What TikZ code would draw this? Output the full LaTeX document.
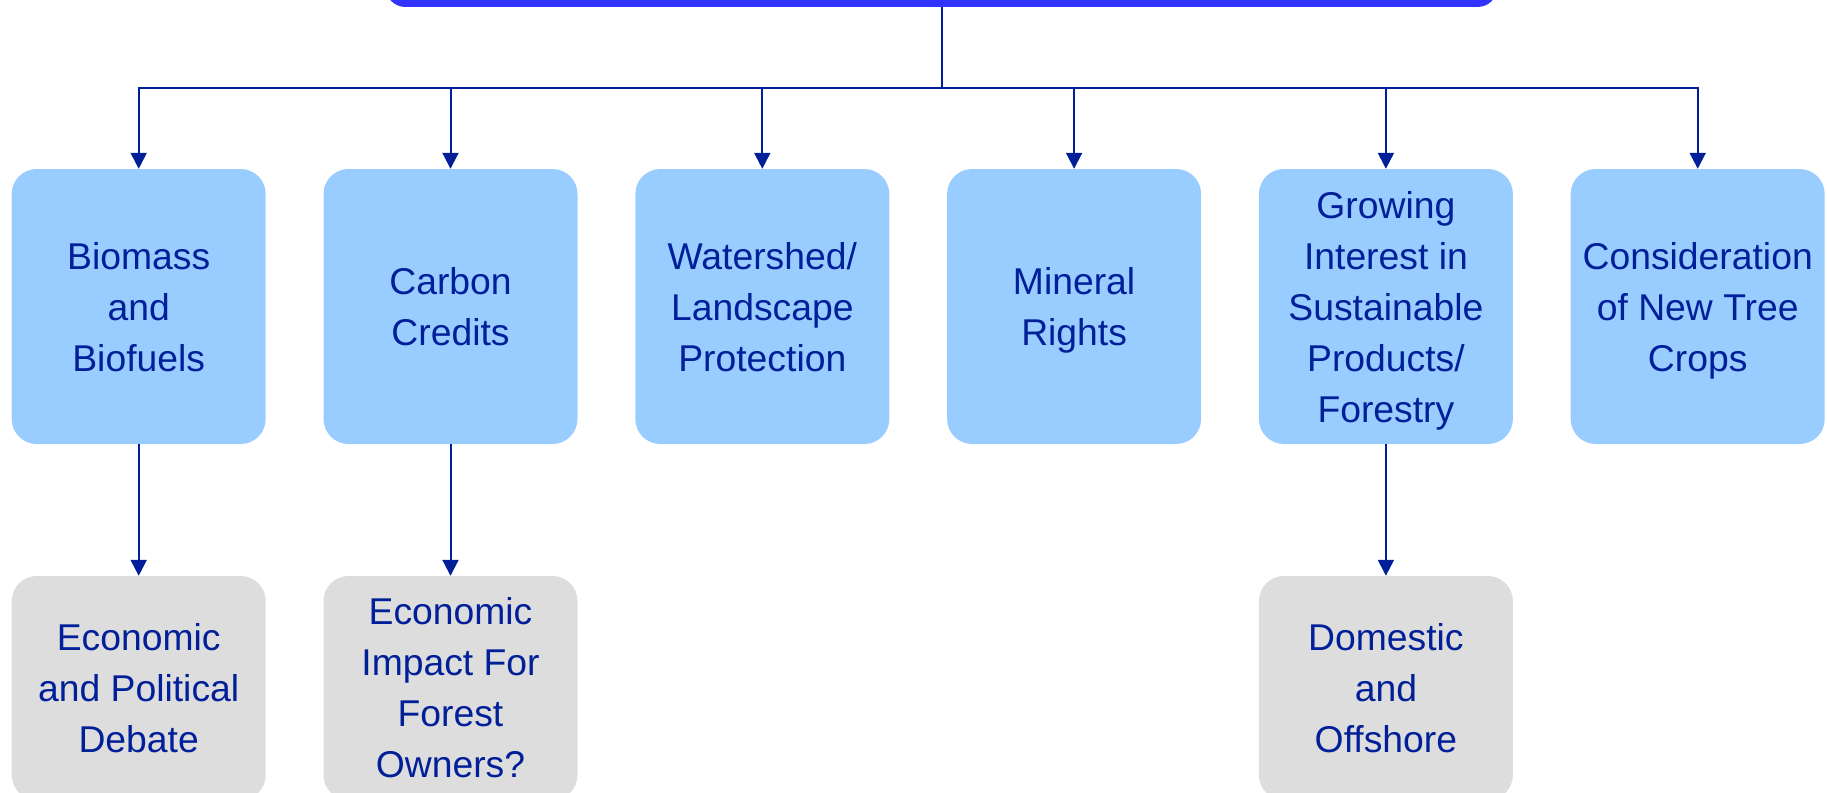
\documentclass[tikz,border=0pt]{standalone}
\usepackage{fontspec}
\setmainfont{Liberation Sans}
\usetikzlibrary{arrows.meta}
\definecolor{topblue}{HTML}{3333FF}
\definecolor{boxblue}{HTML}{99CCFF}
\definecolor{boxgray}{HTML}{DDDDDD}
\definecolor{ink}{HTML}{001F99}
\tikzset{
  basebox/.style={draw=none, rounded corners=25pt, minimum width=254pt,
    align=center, text=ink, inner sep=0pt, font=\fontsize{37.3}{51}\selectfont},
  topbox/.style={basebox, fill=boxblue, minimum height=275pt, text depth=0pt},
  subbox/.style={basebox, fill=boxgray, minimum height=224pt},
  conn/.style={draw=ink, line width=2pt},
  arr/.style={conn, -{Triangle[width=16pt,length=16pt]}}
}
\begin{document}
\begin{tikzpicture}[x=1pt,y=-1pt]
\useasboundingbox (0,0) rectangle (1827,792);
\clip (0,0) rectangle (1827,792);
\node[fill=topblue, rounded corners=20pt, minimum width=1112pt, minimum height=50pt, inner sep=0pt] (top) at (941.5,-18) {};
\coordinate (hub) at (941.5,87.5);
\node[topbox] (b1) at (138.7,306.5) {Biomass\\and\\Biofuels};
\node[topbox] (b2) at (450.5,306.5) {Carbon\\Credits};
\node[topbox] (b3) at (762.3,306.5) {Watershed/\\Landscape\\Protection};
\node[topbox] (b4) at (1074.1,306.5) {Mineral\\Rights};
\node[topbox] (b5) at (1385.9,306.5) {Growing\\Interest in\\Sustainable\\Products/\\Forestry};
\node[topbox] (b6) at (1697.7,306.5) {Consideration\\of New Tree\\Crops};
\node[subbox] (s1) at (138.7,688) {Economic\\and Political\\Debate};
\node[subbox] (s2) at (450.5,688) {Economic\\Impact For\\Forest\\Owners?};
\node[subbox] (s5) at (1385.9,688) {Domestic\\and\\Offshore};
\draw[conn] (top.south) -- (hub);
\foreach \b in {b1,b2,b3,b4,b5,b6}{
  \draw[arr] (hub) -| (\b.north);
}
\draw[arr] (b1.south) -- (s1.north);
\draw[arr] (b2.south) -- (s2.north);
\draw[arr] (b5.south) -- (s5.north);
\end{tikzpicture}
\end{document}
